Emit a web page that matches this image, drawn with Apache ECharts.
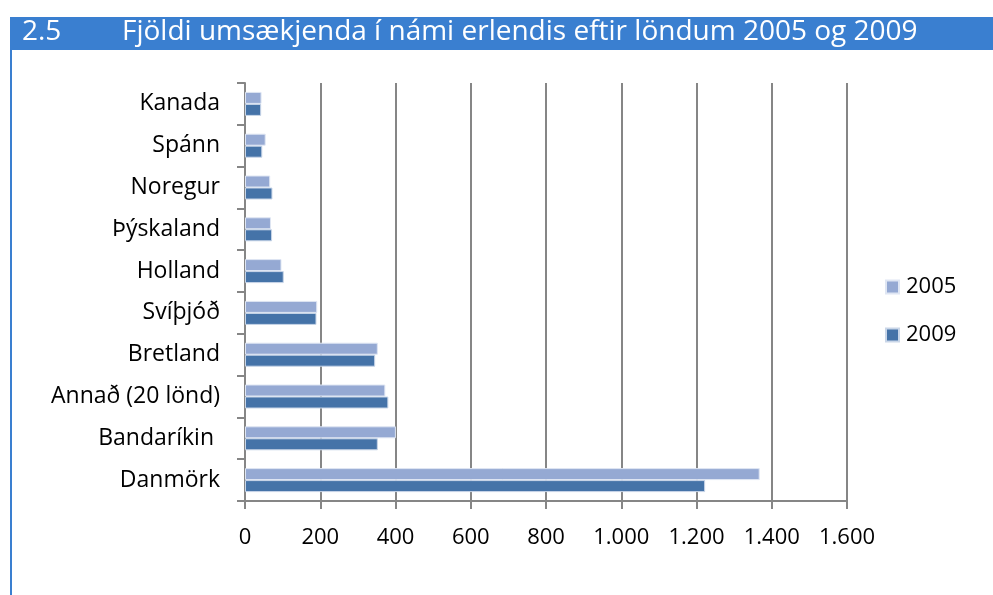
<!DOCTYPE html>
<html>
<head>
<meta charset="utf-8">
<script src="https://cdn.jsdelivr.net/npm/echarts@6/dist/echarts.min.js"></script>
<style>
  html, body { margin: 0; padding: 0; background: #ffffff; }
  #chart { width: 993px; height: 595px; }
</style>
</head>
<body>
<div id="chart"></div>
<script>
// löndin, efst til neðst
const countries = ['Kanada', 'Spánn', 'Noregur', 'Þýskaland', 'Holland', 'Svíþjóð', 'Bretland', 'Annað (20 lönd)', 'Bandaríkin ', 'Danmörk'];
const values2005 = [44, 55, 67, 69, 97, 192, 353, 373, 401, 1368];
const values2009 = [43, 46, 73, 72, 103, 190, 346, 381, 353, 1223];
const seriesNames = ['2005', '2009'];

const chart = echarts.init(document.getElementById('chart'));

const option = {
  animation: false,
  textStyle: { fontFamily: 'Open Sans' },
  graphic: [
    // blá fyrirsagnarrönd
    { type: 'rect', shape: { x: 10, y: 17, width: 983, height: 33 }, style: { fill: '#3a7fd0' } },
    { type: 'rect', shape: { x: 10, y: 50, width: 2, height: 545 }, style: { fill: '#3a7fd0' } },
    { type: 'text', left: 22, top: 18, style: { text: '2.5', fill: '#ffffff', font: '28px "Open Sans"' } },
    { type: 'text', left: 122, top: 18, style: { text: 'Fjöldi umsækjenda í námi erlendis eftir löndum 2005 og 2009', fill: '#ffffff', font: '28px "Open Sans"' } }
  ],
  legend: {
    orient: 'vertical',
    left: 880,
    top: 271,
    itemWidth: 13,
    itemHeight: 13,
    itemGap: 26,
    icon: 'rect',
    textStyle: { fontSize: 22, color: '#000000', fontFamily: 'Open Sans', padding: [0, 0, 0, 2] },
    data: seriesNames
  },
  grid: { left: 245, right: 146, top: 83, bottom: 94 },
  xAxis: {
    type: 'value',
    min: 0,
    max: 1600,
    interval: 200,
    axisLine: { show: true, lineStyle: { color: '#868686', width: 2 } },
    axisTick: { show: true, length: 8, lineStyle: { color: '#868686', width: 2 } },
    axisLabel: {
      fontSize: 22,
      color: '#000000',
      margin: 26,
      formatter: v => v.toLocaleString('de-DE')
    },
    splitLine: { show: true, lineStyle: { color: '#868686', width: 2 } }
  },
  yAxis: {
    type: 'category',
    inverse: true,
    data: countries,
    axisLine: { show: true, lineStyle: { color: '#868686', width: 2 } },
    axisTick: { show: true, length: 8, inside: false, lineStyle: { color: '#868686', width: 2 } },
    axisLabel: { fontSize: 23, color: '#000000', margin: 25 }
  },
  series: [
    {
      name: seriesNames[0],
      type: 'bar',
      data: values2005,
      barWidth: 12,
      barGap: '0%',
      itemStyle: { color: '#95a9d3', borderColor: '#dfe6f3', borderWidth: 1 }
    },
    {
      name: seriesNames[1],
      type: 'bar',
      data: values2009,
      barWidth: 12,
      barGap: '0%',
      itemStyle: { color: '#4573a8', borderColor: '#c9d6e8', borderWidth: 1 }
    }
  ]
};

chart.setOption(option);
</script>
</body>
</html>
